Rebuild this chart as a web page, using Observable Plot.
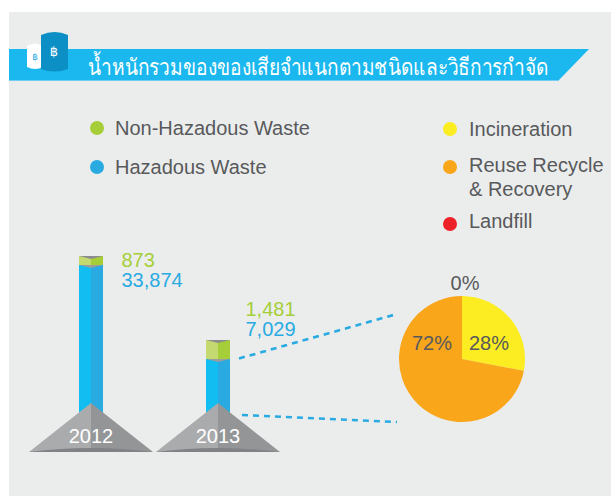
<!DOCTYPE html>
<html><head><meta charset="utf-8">
<script src="https://cdn.jsdelivr.net/npm/d3@7"></script>
<script src="https://cdn.jsdelivr.net/npm/@observablehq/plot@0.6"></script>
<style>
html,body{margin:0;padding:0;background:#fff;}
#page{position:relative;width:611px;height:496px;overflow:hidden;font-family:"Liberation Sans",Arial,sans-serif;color:#58595b;}
#panel{position:absolute;left:9px;top:12px;width:602px;height:484px;background:#ebeded;}
#chart{position:absolute;left:0;top:0;}
#banner{position:absolute;left:9px;top:49px;width:580px;height:32px;background:#1ab8ee;border-bottom:1px solid #6fcdf0;box-sizing:border-box;clip-path:polygon(0 0,100% 0,549px 100%,0 100%);}
#title{position:absolute;left:88px;top:47px;height:32px;line-height:38px;font-size:23px;color:#fff;white-space:nowrap;transform-origin:0 50%;font-family:"Noto Sans","DejaVu Sans",sans-serif;}
#icon{position:absolute;left:24px;top:30px;}
.lg{position:absolute;font-size:20px;line-height:24px;white-space:pre;}
.dot{position:absolute;width:14px;height:14px;border-radius:50%;}
</style></head><body>
<div id="page"><div id="panel"></div><div id="banner"></div>
<svg id="icon" width="48" height="44" viewBox="0 0 48 44">
<path d="M3 16Q11 11 19 16V37Q11 41 3 37Z" fill="#fff"/>
<path d="M17 5Q30.5 -1 44 5V39Q30.5 44 17 39Z" fill="#0b8fc4"/>
<text x="11" y="30" font-size="9" text-anchor="middle" fill="#29abe2" font-family="DejaVu Sans">฿</text>
<text x="30" y="26" font-size="13" text-anchor="middle" fill="#fff" font-family="DejaVu Sans">฿</text>
</svg>
<div id="title"></div><div id="chart"></div></div>
<script>
const titleText = "น้ำหนักรวมของของเสียจำแนกตามชนิดและวิธีการกำจัด";
const years = ["2012", "2013"];
const hazardous = [33874, 7029];
const nonHazardous = [873, 1481];
const wasteNames = ["Hazadous Waste", "Non-Hazadous Waste"];
const wasteColors = ["#29abe2", "#a6ce39"];
const wasteLightColors = ["#12bdf2", "#c4d96f"];
const methodNames = ["Incineration", "Reuse Recycle\n& Recovery", "Landfill"];
const methodColors = ["#fbed21", "#faa61a", "#ed2128"];
const methodShares = [28, 72, 0];

const page = document.getElementById("page");
const titleEl = document.getElementById("title");
titleEl.textContent = titleText;
titleEl.style.transform = `scaleX(${460 / titleEl.getBoundingClientRect().width})`;
function legend(name, color, dotX, dotY, textX, textY) {
  const d = document.createElement("div"); d.className = "dot";
  d.style.cssText = `left:${dotX - 7}px;top:${dotY - 7}px;background:${color}`;
  const t = document.createElement("div"); t.className = "lg"; t.textContent = name;
  t.style.left = textX + "px"; t.style.top = textY - 12 + "px";
  page.append(d, t);
}
legend(wasteNames[1], wasteColors[1], 97, 128, 115, 128);
legend(wasteNames[0], wasteColors[0], 97, 167, 115, 167);
legend(methodNames[0], methodColors[0], 450, 129, 469, 129);
legend(methodNames[1], methodColors[1], 450, 167, 469, 165);
legend(methodNames[2], methodColors[2], 450, 224, 469, 221);

const rows = years.flatMap((year, i) => [
  {year, series: wasteNames[0], value: hazardous[i]},
  {year, series: wasteNames[1], value: nonHazardous[i]}
]);
const totals = years.map((year, i) => ({year, total: hazardous[i] + nonHazardous[i], haz: hazardous[i], non: nonHazardous[i]}));
const fmt = d3.format(",");
const lightOf = d => wasteLightColors[wasteNames.indexOf(d.series)];

const half = 12;
function centre(s, year) { return s.x(year) + half; }

function poly(g, pts, fill) { g.append("path").attr("d", "M" + pts.map(p => p.join(",")).join("L") + "Z").attr("fill", fill); }

const chevrons = (index, scales) => {
  const g = d3.create("svg:g");
  for (const t of totals) {
    const c = centre(scales, t.year);
    const top = scales.y(t.total), mid = scales.y(t.haz);
    poly(g, [[c - half, top], [c + half, top], [c, top + 3]], "#8a8c8e");
    poly(g, [[c - half, mid], [c + half, mid], [c, mid + 3]], "#9b9c9e");
  }
  return g.node();
};
const pyramids = (index, scales) => {
  const g = d3.create("svg:g");
  for (const year of years) {
    const c = centre(scales, year), b = scales.y(0);
    poly(g, [[c, b - 49], [c - 62, b], [c, b]], "#a9abad");
    poly(g, [[c, b - 49], [c + 62, b], [c, b]], "#939597");
    g.append("path").attr("d", `M${c - 62},${b}Q${c},${b - 8} ${c + 62},${b}Z`).attr("fill", "#808285");
    g.append("text").attr("x", c).attr("y", b - 9).attr("text-anchor", "middle")
      .attr("font-size", 20).attr("fill", "#fff").text(year);
  }
  return g.node();
};
const leaders = () => {
  const g = d3.create("svg:g").attr("stroke", "#29abe2").attr("stroke-width", 2.6).attr("stroke-dasharray", "6 5").attr("fill", "none");
  g.append("line").attr("x1", 239).attr("y1", 358.5).attr("x2", 397).attr("y2", 314);
  g.append("line").attr("x1", 242).attr("y1", 415).attr("x2", 397).attr("y2", 422);
  return g.node();
};
const pie = () => {
  const g = d3.create("svg:g").attr("transform", "translate(462,359)");
  const arcs = d3.pie().sort(null)(methodShares);
  const arc = d3.arc().innerRadius(0).outerRadius(63);
  arcs.forEach((a, i) => g.append("path").attr("d", arc(a)).attr("fill", methodColors[i]));
  const pos = [[27, -9], [-30, -9], [3, -69]];
  arcs.forEach((a, i) => g.append("text").attr("x", pos[i][0]).attr("y", pos[i][1]).attr("text-anchor", "middle")
    .attr("font-size", 20).attr("fill", "#58595b").text(methodShares[i] + "%"));
  return g.node();
};

const labels = (year, dx, dy) => {
  const d = totals.filter(t => t.year === year);
  const base = {x: "year", y: "total", textAnchor: "start", fontSize: 20, fontFamily: "Liberation Sans", dx};
  return [
    Plot.text(d, {...base, text: t => fmt(t.non), fill: wasteColors[1], dy}),
    Plot.text(d, {...base, text: t => fmt(t.haz), fill: wasteColors[0], dy: dy + 20})
  ];
};

const plot = Plot.plot({
  width: 611, height: 496,
  margin: 0,
  style: {background: "transparent", fontFamily: "Liberation Sans"},
  x: {type: "band", domain: years, range: [79, 230.5], paddingInner: 0.812, paddingOuter: 0, align: 0.5, axis: null},
  y: {type: "linear", domain: [0, 7029, 8510, 33874, 34747], range: [452, 359, 340, 265, 256], axis: null},
  color: {domain: wasteNames, range: wasteColors},
  marks: [
    Plot.barY(rows, {x: "year", y: "value", fill: "series", order: wasteNames}),
    Plot.barY(rows, {x: "year", y: "value", fill: lightOf, order: wasteNames, insetRight: half}),
    chevrons, pyramids, leaders, pie,
    ...labels("2012", 30, 4),
    ...labels("2013", 27, -31)
  ]
});
document.getElementById("chart").append(plot);
</script></body></html>
